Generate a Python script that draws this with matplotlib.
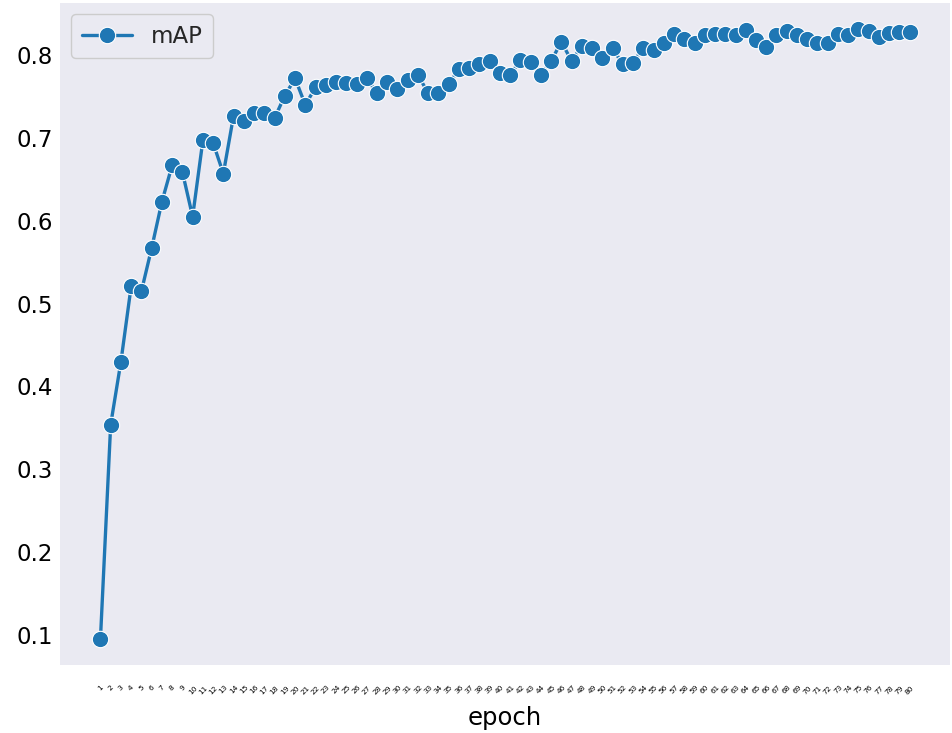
import matplotlib
matplotlib.use("Agg")
import matplotlib.pyplot as plt
import seaborn as sns

# mAP per epoch
epochs = list(range(1, 81))
map_values = [
    0.095, 0.354, 0.430, 0.521, 0.515, 0.567, 0.623, 0.667, 0.659, 0.605,
    0.697, 0.694, 0.657, 0.727, 0.720, 0.730, 0.730, 0.724, 0.751, 0.772,
    0.740, 0.761, 0.764, 0.767, 0.766, 0.765, 0.772, 0.754, 0.767, 0.759,
    0.770, 0.776, 0.754, 0.754, 0.765, 0.783, 0.785, 0.789, 0.793, 0.778,
    0.776, 0.794, 0.792, 0.776, 0.793, 0.816, 0.793, 0.811, 0.808, 0.796,
    0.808, 0.789, 0.791, 0.809, 0.806, 0.815, 0.826, 0.819, 0.815, 0.824,
    0.826, 0.826, 0.824, 0.830, 0.818, 0.810, 0.824, 0.829, 0.824, 0.820,
    0.815, 0.815, 0.826, 0.824, 0.831, 0.829, 0.822, 0.827, 0.828, 0.828,
]
tick_labels = [str(e) for e in epochs]
y_ticks = [0.1, 0.2, 0.3, 0.4, 0.5, 0.6, 0.7, 0.8]

sns.set_theme(style="darkgrid")

fig, ax = plt.subplots(figsize=(9.52, 7.33), dpi=100)
fig.subplots_adjust(left=0.063, right=0.998, top=0.996, bottom=0.093)

ax.plot(epochs, map_values, color="#1f77b4", linewidth=2.4, marker="o",
        markersize=11.8, markeredgecolor="white", markeredgewidth=0.8,
        label="mAP")

ax.grid(False)
for spine in ax.spines.values():
    spine.set_visible(False)

ax.set_ylim(0.064, 0.863)
ax.set_yticks(y_ticks)
ax.set_xticks(epochs)
ax.set_xticklabels(tick_labels, rotation=45, fontsize=5.3)
ax.tick_params(axis="y", labelsize=16.5, length=0, pad=5, colors="black")
ax.tick_params(axis="x", length=0, pad=14, colors="black")

ax.set_xlabel("epoch", fontsize=17.5, color="black", labelpad=8)

ax.legend(loc="upper left", fontsize=16.5, facecolor="#EAEAF2",
          edgecolor="#cccccc", framealpha=1, borderpad=0.45,
          handlelength=2.2)

fig.savefig("out.png", dpi=100)
